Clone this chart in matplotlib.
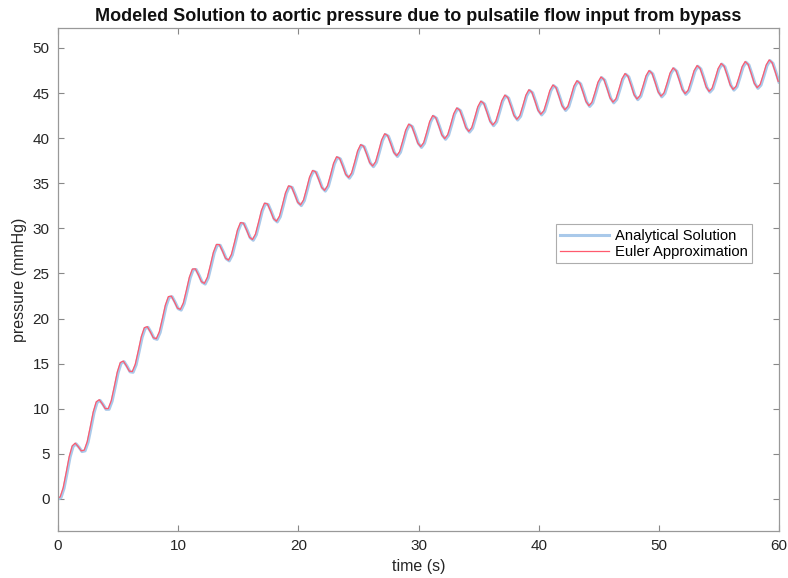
import matplotlib.pyplot as plt
import matplotlib.transforms as mtransforms

# time samples every 0.25 s (s)
time_s = [i * 0.25 for i in range(241)]

# pressure (mmHg), 4 samples per second
pressure = [
    0.000, 0.152, 1.171, 2.858,
    4.616, 5.807, 6.113, 5.730,
    5.259, 5.335, 6.279, 7.892,
    9.577, 10.696, 10.931, 10.478,
    9.938, 9.946, 10.823, 12.370,
    13.990, 15.045, 15.217, 14.702,
    14.100, 14.048, 14.865, 16.353,
    17.915, 18.913, 19.029, 18.459,
    17.802, 17.696, 18.460, 19.897,
    21.407, 22.354, 22.420, 21.801,
    21.096, 20.942, 21.659, 23.049,
    24.514, 25.416, 25.438, 24.775,
    24.026, 23.830, 24.505, 25.853,
    27.278, 28.140, 28.122, 27.420,
    26.633, 26.399, 27.037, 28.349,
    29.736, 30.563, 30.509, 29.772,
    28.952, 28.684, 29.289, 30.568,
    31.924, 32.719, 32.634, 31.867,
    31.015, 30.717, 31.292, 32.543,
    33.870, 34.637, 34.524, 33.729,
    32.851, 32.527, 33.075, 34.300,
    35.601, 36.342, 36.205, 35.386,
    34.484, 34.136, 34.661, 35.863,
    37.141, 37.860, 37.701, 36.860,
    35.936, 35.567, 36.071, 37.252,
    38.511, 39.210, 39.031, 38.171,
    37.228, 36.840, 37.326, 38.489,
    39.730, 40.412, 40.215, 39.338,
    38.378, 37.973, 38.443, 39.590,
    40.814, 41.480, 41.268, 40.375,
    39.400, 38.981, 39.436, 40.568,
    41.779, 42.431, 42.205, 41.299,
    40.310, 39.877, 40.319, 41.439,
    42.637, 43.276, 43.038, 42.120,
    41.120, 40.676, 41.106, 42.214,
    43.400, 44.028, 43.779, 42.850,
    41.840, 41.385, 41.805, 42.903,
    44.079, 44.697, 44.439, 43.500,
    42.480, 42.016, 42.427, 43.516,
    44.684, 45.294, 45.026, 44.079,
    43.050, 42.578, 42.980, 44.061,
    45.221, 45.823, 45.548, 44.593,
    43.557, 43.077, 43.473, 44.546,
    45.699, 46.294, 46.012, 45.050,
    44.008, 43.522, 43.911, 44.978,
    46.125, 46.714, 46.426, 45.458,
    44.410, 43.918, 44.301, 45.363,
    46.503, 47.086, 46.793, 45.820,
    44.767, 44.270, 44.648, 45.704,
    46.840, 47.418, 47.120, 46.143,
    45.084, 44.582, 44.956, 46.008,
    47.140, 47.714, 47.412, 46.430,
    45.367, 44.861, 45.231, 46.279,
    47.406, 47.976, 47.670, 46.684,
    45.618, 45.108, 45.474, 46.519,
    47.643, 48.210, 47.900, 46.911,
    45.842, 45.329, 45.692, 46.733,
    47.854, 48.418, 48.105, 47.113,
    46.041, 45.525, 45.885, 46.924,
    48.042, 48.603, 48.288, 47.293,
    46.218,
]

x_ticks = [0, 10, 20, 30, 40, 50, 60]
y_ticks = [0, 5, 10, 15, 20, 25, 30, 35, 40, 45, 50]

plt.rcParams['font.family'] = ['Liberation Sans', 'DejaVu Sans']

fig = plt.figure(figsize=(7.88, 5.78), dpi=100)
ax = fig.add_axes([0.0736, 0.0813, 0.915, 0.870])

ax.plot(time_s, pressure, color='#a9c9ea', linewidth=2.2, label='Analytical Solution')
# euler line sits a hair up/left of the analytical one in the reference
shift = mtransforms.ScaledTranslation(-0.6 / 72, 0.5 / 72, fig.dpi_scale_trans)
ax.plot(time_s, pressure, color='#ff5a6e', linewidth=0.9, label='Euler Approximation',
        transform=ax.transData + shift)

ax.set_xlim(0, 60)
ax.set_ylim(-3.55, 52.2)
ax.set_xticks(x_ticks)
ax.set_yticks(y_ticks)

ax.tick_params(direction='in', top=True, right=True, length=4, width=0.8,
               colors='#888888', labelcolor='#262626', labelsize=11, pad=6)
for sp in ax.spines.values():
    sp.set_color('#999999')
    sp.set_linewidth(0.9)

ax.set_title('Modeled Solution to aortic pressure due to pulsatile flow input from bypass',
             fontsize=13, fontweight='bold', color='#111111', pad=5)
ax.set_xlabel('time (s)', fontsize=11.5, color='#262626', labelpad=4)
ax.set_ylabel('pressure (mmHg)', fontsize=11.5, color='#262626', labelpad=4)

leg = ax.legend(loc='upper left', bbox_to_anchor=(0.6907, 0.610), fontsize=10.6,
                frameon=True, fancybox=False, edgecolor='#999999',
                handlelength=3.3, handletextpad=0.4, borderpad=0.3,
                labelspacing=0.15, borderaxespad=0)
leg.get_frame().set_linewidth(0.8)

fig.savefig('out.png', dpi=100)
